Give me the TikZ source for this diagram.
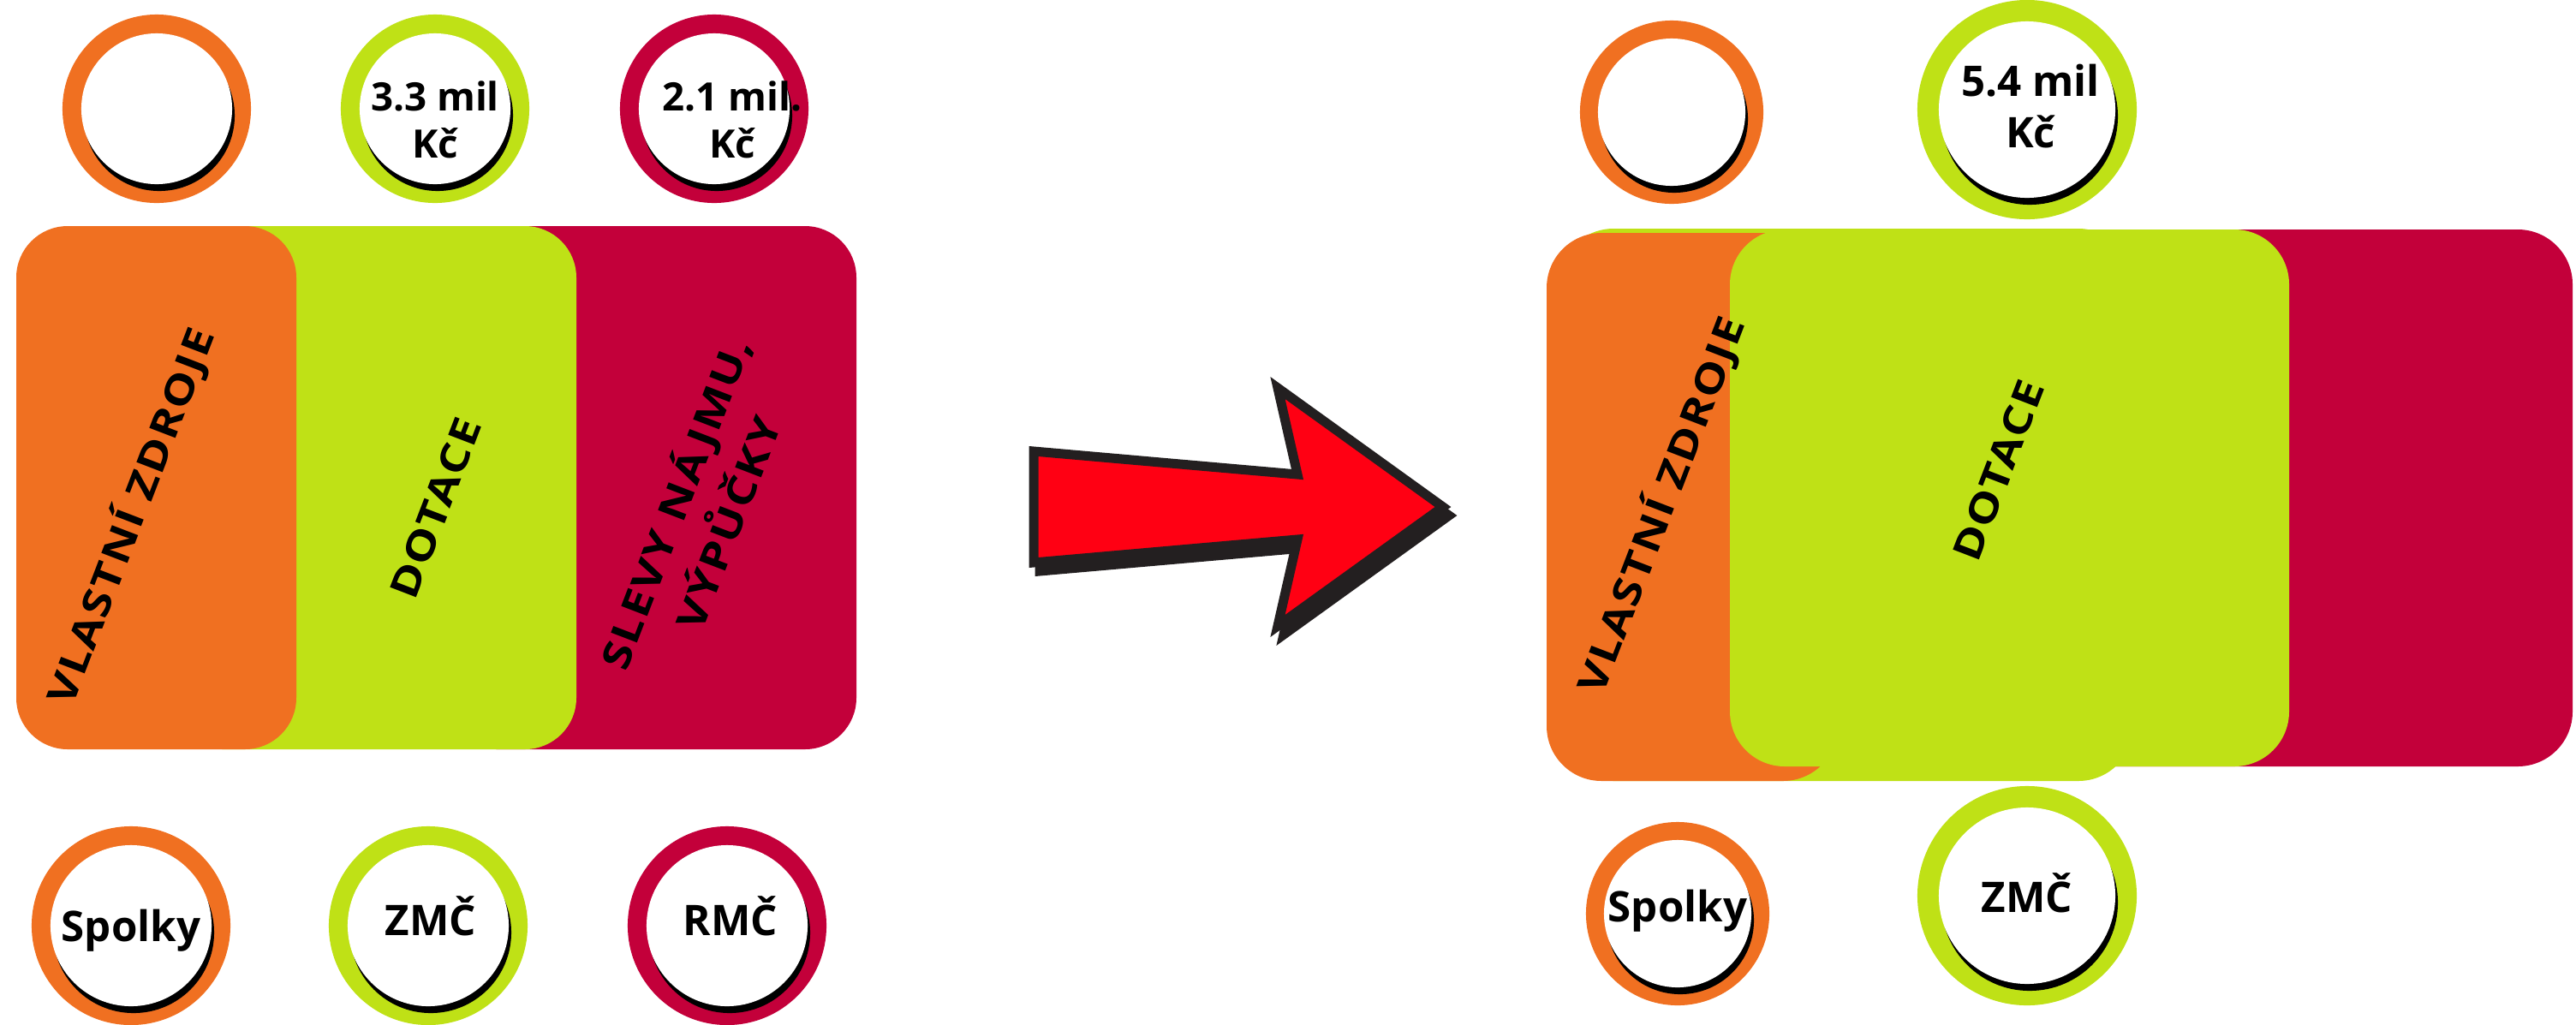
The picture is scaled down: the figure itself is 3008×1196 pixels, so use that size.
\documentclass[tikz,border=0pt]{standalone}
\usepackage{fontspec}
\setmainfont{Open Sans}
\newfontfamily\trackfont[FakeStretch=1.2, LetterSpace=4]{Open Sans}
\usepackage{tikz}

\definecolor{orangeC}{HTML}{F07021}
\definecolor{limeC}{HTML}{BFE116}
\definecolor{crimsonC}{HTML}{C3003A}
\definecolor{arrowred}{HTML}{FF0013}
\definecolor{arrowline}{HTML}{231F20}

\tikzset{
  ring/.style n args={3}{circle, inner sep=0pt, minimum size=#2, fill=white,
    preaction={draw=#1, line width=#3},
    preaction={fill=black, transform canvas={xshift=0.03cm, yshift=-0.08cm}}},
  ringtext/.style={font=\bfseries\fontsize{13}{15.6}\selectfont, align=center, inner sep=0pt},
  bigtext/.style={font=\bfseries\fontsize{14}{16.8}\selectfont, align=center, inner sep=0pt},
  sidetext/.style={font=\trackfont\bfseries\fontsize{13}{18.7}\selectfont, rotate=69, inner sep=0pt, align=center},
  block/.style={rounded corners=#1},
  block/.default=0.6cm,
}

\begin{document}
\begin{tikzpicture}[x=0.01cm, y=-0.01cm]
\useasboundingbox (0,0) rectangle (3008,1196);

% left: three sources side by side
\fill[crimsonC, block] (520,264) rectangle (1000,875);
\fill[limeC, block] (200,264) rectangle (673,875);
\fill[orangeC, block] (19,264) rectangle (346,875);

\node[sidetext, anchor=base] (ownL) at (168,609) {VLASTNÍ ZDROJE};
\node[sidetext, anchor=base] (grantL) at (524,599) {DOTACE};
\node[sidetext] (rentL) at (816,598) {SLEVY NÁJMU,\\VÝPŮČKY};

\node[ring={orangeC}{1.76cm}{0.44cm}] (topOwnL) at (183,127) {};
\node[ring={limeC}{1.76cm}{0.44cm}, label={[ringtext, yshift=-0.13cm]center:3.3 mil\\Kč}] (topGrantL) at (508,127) {};
\node[ring={crimsonC}{1.76cm}{0.44cm}, label={[ringtext, xshift=0.21cm, yshift=-0.13cm]center:2.1 mil.\\Kč}] (topRentL) at (834,127) {};

\node[ring={orangeC}{1.88cm}{0.44cm}, label={[bigtext, yshift=-0.06cm]center:Spolky}] (clubsL) at (153,1081) {};
\node[ring={limeC}{1.88cm}{0.44cm}, label={[bigtext, xshift=0.03cm, yshift=0.11cm]center:ZMČ}] (councilL) at (500,1081) {};
\node[ring={crimsonC}{1.88cm}{0.44cm}, label={[bigtext, xshift=0.04cm, yshift=0.11cm]center:RMČ}] (boardL) at (849,1081) {};

% arrow with shadow
\filldraw[arrowline, line width=0.11cm, shift={(7,10)}] (1207,527) -- (1515,554) -- (1492,453) -- (1685,592) -- (1492,731) -- (1515,630) -- (1207,657) -- cycle;
\filldraw[fill=arrowred, draw=arrowline, line width=0.11cm] (1207,527) -- (1515,554) -- (1492,453) -- (1685,592) -- (1492,731) -- (1515,630) -- (1207,657) -- cycle;

% right: grants cover most of it
\fill[crimsonC, block=0.64cm] (2300,268) rectangle (3004,895);
\fill[limeC, block=0.64cm] (1820,267) rectangle (2491,912);
\fill[orangeC, block=0.64cm] (1806,272) rectangle (2146,912);
\fill[limeC, block=0.64cm] (2020,268) rectangle (2673,895);

\node[sidetext, anchor=base] (ownR) at (1955,596) {VLASTNÍ ZDROJE};
\node[sidetext, anchor=base] (grantR) at (2349,555) {DOTACE};

\node[ring={orangeC}{1.72cm}{0.42cm}] (topOwnR) at (1952,131) {};
\node[ring={limeC}{2.06cm}{0.50cm}, label={[bigtext, xshift=0.04cm, yshift=0.04cm]center:5.4 mil\\Kč}] (topGrantR) at (2367,128) {};

\node[ring={orangeC}{1.72cm}{0.42cm}, label={[bigtext, yshift=0.03cm]center:Spolky}] (clubsR) at (1959,1067) {};
\node[ring={limeC}{2.06cm}{0.50cm}, label={[bigtext, yshift=0.03cm]center:ZMČ}] (councilR) at (2367,1046) {};

\end{tikzpicture}
\end{document}
